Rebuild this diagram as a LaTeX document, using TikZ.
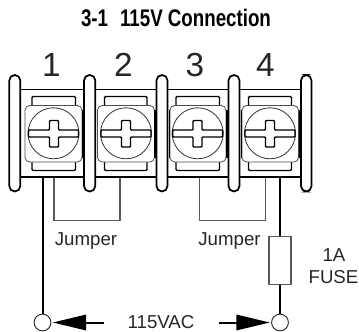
\documentclass[tikz,border=0pt]{standalone}
\usepackage{fontspec}
\setmainfont{Liberation Sans}
\newfontfamily\titlefont[FakeStretch=0.78]{Liberation Sans}
\usetikzlibrary{arrows.meta}
\tikzset{
  post/.style={line width=1.3pt,rounded corners=4.1pt,fill=white},
  busbar/.style={line width=1.2pt},
  plate/.style={line width=1.1pt,rounded corners=0.8pt},
  lug/.style={line width=0.6pt,draw=black!70,rounded corners=3.5pt,fill=white},
  lugedge/.style={line width=1.4pt},
  screwhead/.style={line width=0.6pt,draw=black!80},
  slot/.style={line width=1.1pt,fill=white,rounded corners=0.6pt},
  wire/.style={line width=1.5pt,black},
  jumperwire/.style={line width=0.8pt,black!65},
  fusebox/.style={draw=black!65,line width=0.9pt,fill=white,minimum width=16.5pt,minimum height=36.5pt,inner sep=0pt},
  acterm/.style={circle,draw=black!85,line width=0.7pt,fill=white,minimum size=12.6pt,inner sep=0pt},
  acarrow/.style={line width=1.5pt,-{Triangle[length=25pt,width=11.5pt]},shorten >=1pt},
  tnum/.style={anchor=center,inner sep=0pt,font=\fontsize{25}{25}\selectfont,black!85},
  lbl/.style={anchor=center,inner sep=0pt,font=\fontsize{14}{14}\selectfont,black!85}
}
\begin{document}
\begin{tikzpicture}[x=0.75pt,y=0.75pt,yscale=-1,xscale=1]
\useasboundingbox (0,0) rectangle (359,331);

%Straight Lines: top and bottom bars
\draw[busbar] (15,89.5) -- (306,89.5);
\draw[busbar] (15,177) -- (306,177);

%Shape: posts
\draw[post] (9.3,134) -- (9.3,75) -- (20.3,75) -- (20.3,191.5) -- (9.3,191.5) -- cycle;
\draw[post] (84,134) -- (84,75) -- (95.3,75) -- (95.3,191.5) -- (84,191.5) -- cycle;
\draw[post] (156.5,134) -- (156.5,75) -- (167.5,75) -- (167.5,191.5) -- (156.5,191.5) -- cycle;
\draw[post] (228.5,134) -- (228.5,75) -- (239.5,75) -- (239.5,191.5) -- (228.5,191.5) -- cycle;
\draw[post] (301,134) -- (301,75) -- (311.5,75) -- (311.5,191.5) -- (301,191.5) -- cycle;

%Shape: terminal 1
\draw[plate] (32,105) -- (32,96.5) -- (75.5,96.5) -- (75.5,105);
\draw[plate] (32,162) -- (32,170.5) -- (75.5,170.5) -- (75.5,162);
\draw[lug] (25,105.5) rectangle (82,162);
\draw[lugedge] (82.6,110) -- (82.6,158);
\draw[screwhead] (53.5,133.3) circle [radius=25.5];
\draw[slot] (28.5,130) -- (49.5,130) -- (49.5,120.5) -- (58.5,120.5) -- (58.5,130) -- (78.5,130) -- (78.5,137) -- (58.5,137) -- (58.5,147) -- (49.5,147) -- (49.5,137) -- (28.5,137) -- cycle;

%Shape: terminal 2
\draw[plate] (104.5,105) -- (104.5,96.5) -- (147,96.5) -- (147,105);
\draw[plate] (104.5,162) -- (104.5,170.5) -- (147,170.5) -- (147,162);
\draw[lug] (97.5,105.5) rectangle (154.5,162);
\draw[lugedge] (155.2,110) -- (155.2,158);
\draw[screwhead] (126,133.3) circle [radius=25.5];
\draw[slot] (101,130) -- (121.5,130) -- (121.5,120.5) -- (130.5,120.5) -- (130.5,130) -- (151,130) -- (151,137) -- (130.5,137) -- (130.5,147) -- (121.5,147) -- (121.5,137) -- (101,137) -- cycle;

%Shape: terminal 3
\draw[plate] (176,105) -- (176,96.5) -- (219.5,96.5) -- (219.5,105);
\draw[plate] (176,162) -- (176,170.5) -- (219.5,170.5) -- (219.5,162);
\draw[lug] (170,105.5) rectangle (226,162);
\draw[lugedge] (169.5,110) -- (169.5,158);
\draw[lugedge] (227,110) -- (227,158);
\draw[screwhead] (197.7,133.3) circle [radius=25.5];
\draw[slot] (172.7,130) -- (193,130) -- (193,120.5) -- (202,120.5) -- (202,130) -- (222.7,130) -- (222.7,137) -- (202,137) -- (202,147) -- (193,147) -- (193,137) -- (172.7,137) -- cycle;

%Shape: terminal 4
\draw[plate] (248.5,105) -- (248.5,96.5) -- (291.5,96.5) -- (291.5,105);
\draw[plate] (248.5,162) -- (248.5,170.5) -- (291.5,170.5) -- (291.5,162);
\draw[lug] (242,105.5) rectangle (298.5,162);
\draw[lugedge] (241.5,110) -- (241.5,158);
\draw[lugedge] (299.5,110) -- (299.5,158);
\draw[screwhead] (270,133.3) circle [radius=25.5];
\draw[slot] (245,130) -- (265.5,130) -- (265.5,120.5) -- (274.5,120.5) -- (274.5,130) -- (295,130) -- (295,137) -- (274.5,137) -- (274.5,147) -- (265.5,147) -- (265.5,137) -- (245,137) -- cycle;

% Wiring nodes
\node[acterm] (acleft) at (42.5,322.5) {};
\node[acterm] (acright) at (280,322.5) {};
\node[fusebox] (fuse) at (280,260.5) {};
\coordinate (wireleft) at (42.5,177.5);
\coordinate (wireright) at (280,177.5);
\coordinate (jumpa) at (54,178);
\coordinate (jumpb) at (120,178);
\coordinate (jumpc) at (199.5,178);
\coordinate (jumpd) at (265.5,178);
\coordinate (tailleft) at (104,322.5);
\coordinate (tailright) at (219,322.5);

%Straight Lines
\draw[wire] (wireleft) -- (acleft);
\draw[wire] (wireright) -- (fuse);
\draw[wire] (fuse) -- (acright);
\draw[jumperwire] (jumpa) -- (54,220.7) -- (120,220.7) -- (jumpb);
\draw[jumperwire] (jumpc) -- (199.5,220.7) -- (265.5,220.7) -- (jumpd);
\draw[acarrow] (tailleft) -- (acleft);
\draw[acarrow] (tailright) -- (acright);

% Text Node
\node[anchor=center,inner sep=0pt,font=\titlefont\bfseries\fontsize{18}{18}\selectfont,black] (title) at (176,18) {3-1\hspace{0.5em}115V Connection};
% Text Node
\node[tnum] (num1) at (51.5,65) {1};
\node[tnum] (num2) at (123.5,65) {2};
\node[tnum] (num3) at (195,65) {3};
\node[tnum] (num4) at (265.5,65) {4};
% Text Node
\node[lbl] (jumperone) at (86,241) {Jumper};
\node[lbl] (jumpertwo) at (229.5,241) {Jumper};
\node[lbl] (fuseamp) at (334,255) {1A};
\node[lbl] (fusename) at (333.5,277) {FUSE};
\node[lbl] (acvolt) at (161,322) {115VAC};

\end{tikzpicture}
\end{document}
